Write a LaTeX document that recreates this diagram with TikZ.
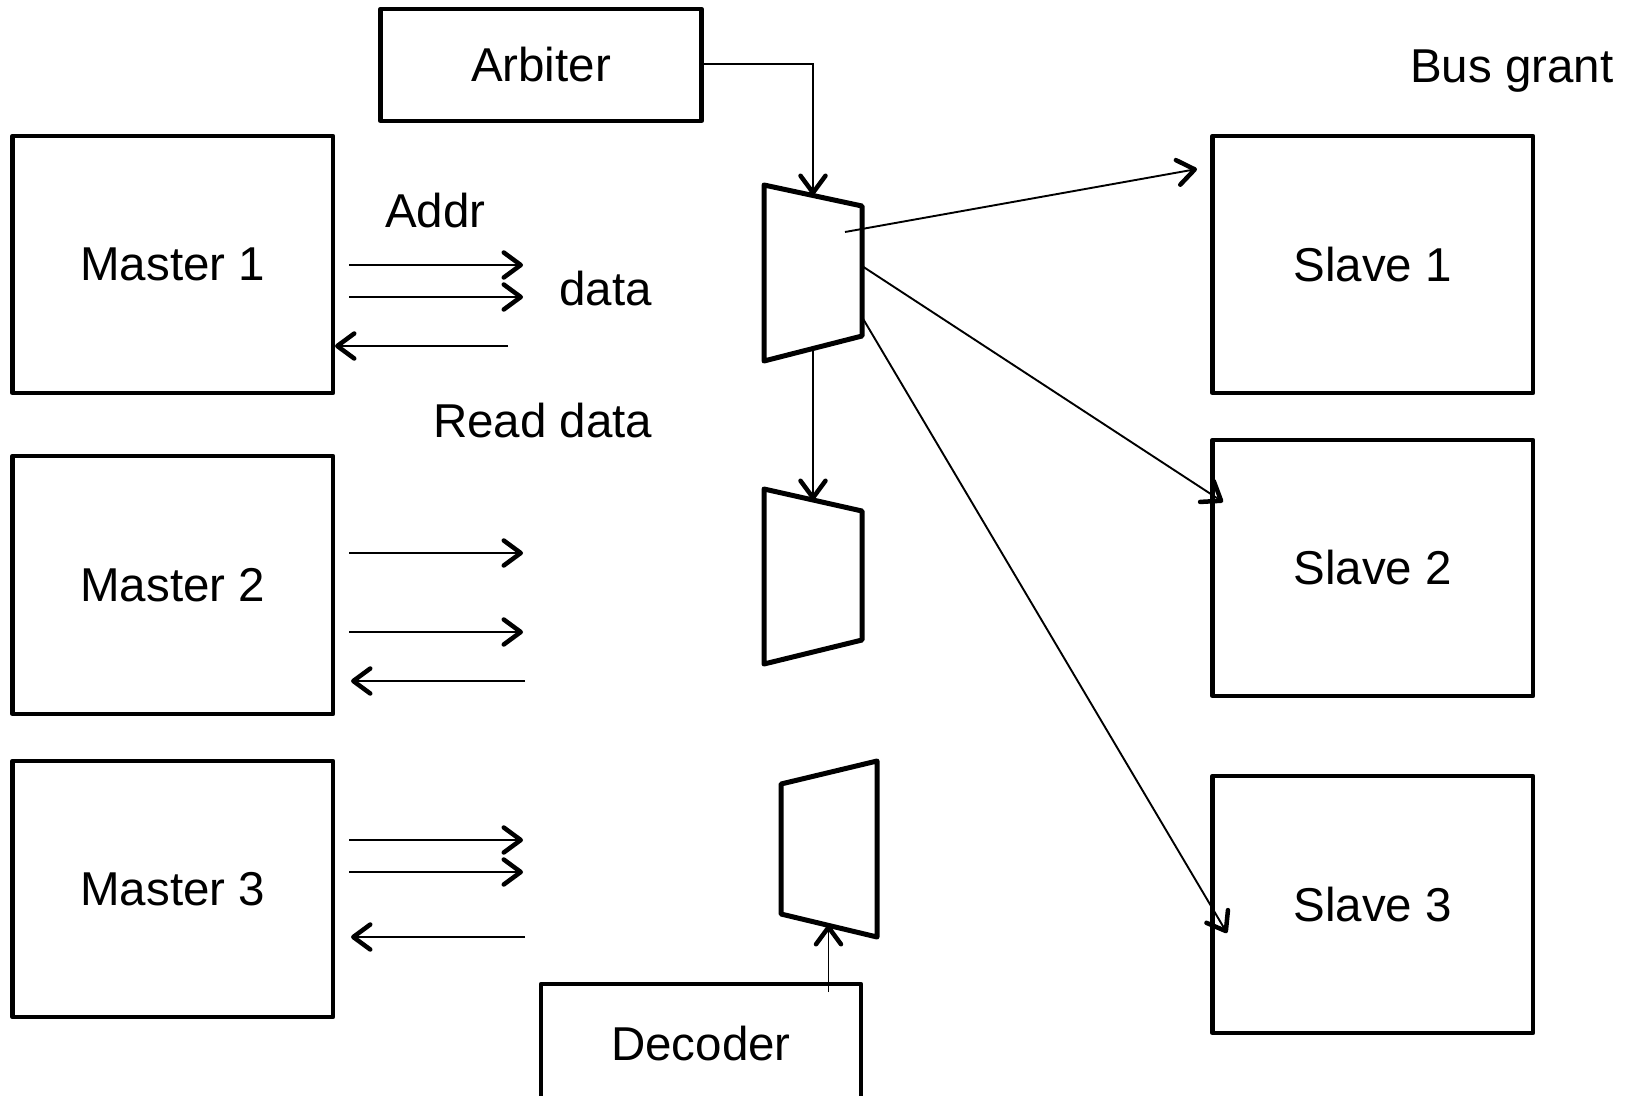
\documentclass[tikz,border=0pt]{standalone}
\usepackage{fontspec}
\setmainfont{Liberation Sans}
\usetikzlibrary{arrows.meta}
\begin{document}
\begin{tikzpicture}[x=1pt,y=-1pt,
  box/.style={draw,line width=4.3pt,line join=round,inner sep=0pt,font=\fontsize{47.5}{56}\selectfont},
  mux/.style={draw,line width=5pt,line join=round},
  lbl/.style={anchor=base west,inner sep=0pt,font=\fontsize{47.5}{56}\selectfont},
  conn/.style={line width=1.9pt,-{Straight Barb[length=17pt,width=25pt,line width=4.5pt,round]}},
  plain/.style={line width=1.9pt}]
\useasboundingbox (0,0) rectangle (1632,1095);
\clip (0,0) rectangle (1632,1095);
% boxes
\node[box,minimum width=320.5pt,minimum height=257pt] (m1) at (172.75,264.5) {Master 1};
\node[box,minimum width=320.5pt,minimum height=258pt] (m2) at (172.75,585) {Master 2};
\node[box,minimum width=320.5pt,minimum height=256pt] (m3) at (172.75,889) {Master 3};
\node[box,minimum width=320.5pt,minimum height=257pt] (s1) at (1372.75,264.5) {Slave 1};
\node[box,minimum width=320.5pt,minimum height=256pt] (s2) at (1372.75,568) {Slave 2};
\node[box,minimum width=320.5pt,minimum height=257pt] (s3) at (1372.75,904.5) {Slave 3};
\node[box,minimum width=321pt,minimum height=112pt] (arb) at (541,65) {Arbiter};
\node[box,minimum width=320pt,minimum height=119pt] (dec) at (701,1043.5) {Decoder};
% labels
\node[lbl] (laddr) at (385,227) {Addr};
\node[lbl] (ldata) at (559,305) {data};
\node[lbl] (lread) at (433,437) {Read data};
\node[lbl] (lbus) at (1410,82) {Bus grant};
% muxes
\coordinate (x1a) at (764,185); \coordinate (x1b) at (862,206);
\coordinate (x1c) at (862,336); \coordinate (x1d) at (764,361);
\draw[mux] (x1a) -- (x1b) -- (x1c) -- (x1d) -- cycle;
\coordinate (x2a) at (764,489); \coordinate (x2b) at (862,511);
\coordinate (x2c) at (862,640); \coordinate (x2d) at (764,664);
\draw[mux] (x2a) -- (x2b) -- (x2c) -- (x2d) -- cycle;
\coordinate (x3a) at (781,784); \coordinate (x3b) at (877,761);
\coordinate (x3c) at (877,937); \coordinate (x3d) at (781,914);
\draw[mux] (x3a) -- (x3b) -- (x3c) -- (x3d) -- cycle;
% connection points
\coordinate (m1top) at (813,195);
\coordinate (m1bot) at (813,349);
\coordinate (m2top) at (813,500);
\coordinate (m3bot) at (828.5,925);
\coordinate (decin) at (828.5,992);
\coordinate (o1) at (845,232);  \coordinate (t1) at (1197,169);
\coordinate (o2) at (862,266);  \coordinate (t2) at (1223,502);
\coordinate (o3) at (862,317);  \coordinate (t3) at (1227,933);
% arbiter, mux chain, decoder
\draw[conn] (arb.east |- 0,64) -| (m1top);
\draw[conn] (m1bot) -- (m2top);
\draw[conn] (decin) -- (m3bot);
\draw[conn] (o1) -- (t1);
\draw[conn] (o2) -- (t2);
\draw[conn] (o3) -- (t3);
% master 1 arrows
\coordinate (a1s) at (349,265); \coordinate (a1e) at (523,265);
\coordinate (a2s) at (349,297); \coordinate (a2e) at (523,297);
\coordinate (a3s) at (508,346); \coordinate (a3e) at (335,346);
\draw[conn] (a1s) -- (a1e);
\draw[conn] (a2s) -- (a2e);
\draw[conn] (a3s) -- (a3e);
% master 2 arrows
\coordinate (b1s) at (349,553); \coordinate (b1e) at (523,553);
\coordinate (b2s) at (349,632); \coordinate (b2e) at (523,632);
\coordinate (b3s) at (525,681); \coordinate (b3e) at (351,681);
\draw[conn] (b1s) -- (b1e);
\draw[conn] (b2s) -- (b2e);
\draw[conn] (b3s) -- (b3e);
% master 3 arrows
\coordinate (c1s) at (349,840); \coordinate (c1e) at (523,840);
\coordinate (c2s) at (349,872); \coordinate (c2e) at (523,872);
\coordinate (c3s) at (525,937); \coordinate (c3e) at (351,937);
\draw[conn] (c1s) -- (c1e);
\draw[conn] (c2s) -- (c2e);
\draw[conn] (c3s) -- (c3e);
\end{tikzpicture}
\end{document}
